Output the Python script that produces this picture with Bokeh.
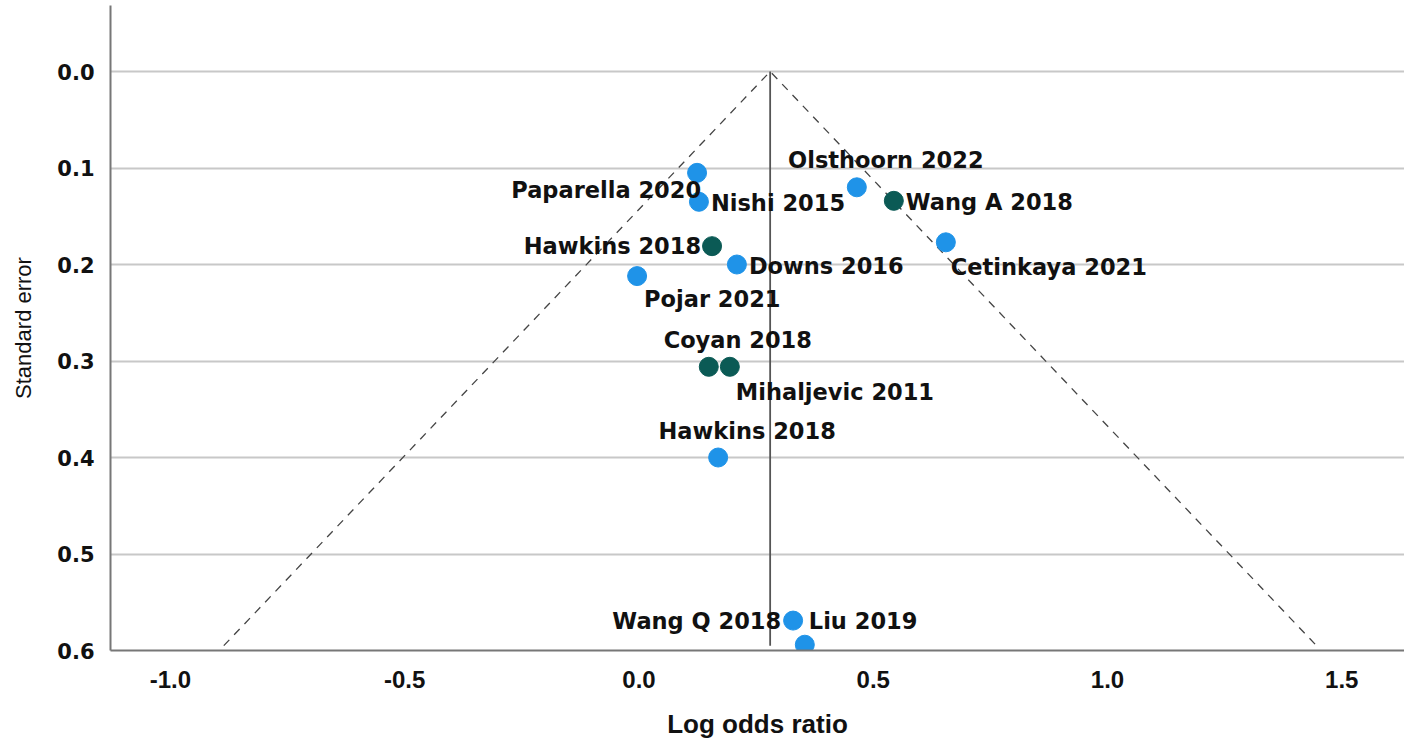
from bokeh.plotting import figure
from bokeh.models import ColumnDataSource, Range1d, FixedTicker, NumeralTickFormatter
from bokeh.core.properties import value
from bokeh.embed import file_html
from bokeh.resources import INLINE

# ---- data ----
studies = ["Paparella 2020", "Nishi 2015", "Olsthoorn 2022", "Wang A 2018", "Cetinkaya 2021",
           "Hawkins 2018", "Downs 2016", "Pojar 2021", "Coyan 2018", "Mihaljevic 2011",
           "Hawkins 2018", "Wang Q 2018", "Liu 2019"]
log_or = [0.124, 0.128, 0.465, 0.544, 0.655, 0.156, 0.209, -0.004, 0.149, 0.194, 0.169, 0.329, 0.354]
std_err = [0.105, 0.135, 0.120, 0.134, 0.177, 0.181, 0.200, 0.212, 0.306, 0.306, 0.400, 0.569, 0.594]
group = ["A", "A", "A", "B", "A", "B", "A", "A", "B", "B", "A", "A", "A"]
pooled = 0.28
se_max = 0.595
x_ticks = [-1.0, -0.5, 0.0, 0.5, 1.0, 1.5]
y_ticks = [0.0, 0.1, 0.2, 0.3, 0.4, 0.5, 0.6]

# ---- styles ----
colors = {"A": "#1f93e8", "B": "#0b5a55"}
lab_align = ["right", "left", "center", "left", "left", "right", "left", "left", "center", "left", "center", "right", "left"]
lab_dx = [4, 12, 29, 12, 5, -11, 12, 7, 29, 6, 29, -12, 4]
lab_dy = [17, 1, -27, 1, 25, 0, 1, 23, -27, 25, -27, 0, -24]

src = ColumnDataSource(dict(x=log_or, y=std_err, color=[colors[g] for g in group]))

p = figure(width=1404, height=744, output_backend="svg", toolbar_location=None,
           x_range=Range1d(-1.128, 1.634), y_range=Range1d(0.6, -0.0684),
           min_border_left=110, min_border_right=0, min_border_top=5, min_border_bottom=94)
p.outline_line_color = None
p.background_fill_color = "white"

# grid
p.xgrid.grid_line_color = None
p.ygrid.grid_line_color = "#c8c8c8"
p.ygrid.grid_line_width = 2
p.yaxis.ticker = FixedTicker(ticks=y_ticks)
p.xaxis.ticker = FixedTicker(ticks=x_ticks)
p.xaxis.formatter = NumeralTickFormatter(format="0.0")
p.yaxis.formatter = NumeralTickFormatter(format="0.0")

for ax in (p.xaxis[0], p.yaxis[0]):
    ax.axis_line_color = "#777777"
    ax.axis_line_width = 2
    ax.major_tick_line_color = None
    ax.minor_tick_line_color = None
    ax.major_label_text_font_style = "bold"
    ax.major_label_text_color = "#111111"
    ax.axis_label_text_color = "#111111"

p.yaxis.major_label_text_font = "DejaVu Sans"
p.yaxis.major_label_text_font_size = "21px"
p.xaxis.major_label_text_font = "Liberation Sans"
p.xaxis.major_label_text_font_size = "24px"

p.yaxis.major_label_standoff = 10
p.xaxis.major_label_standoff = 14
p.yaxis.axis_label = "Standard error"
p.yaxis.axis_label_text_font = "Liberation Sans"
p.yaxis.axis_label_text_font_style = "normal"
p.yaxis.axis_label_text_font_size = "22px"
p.yaxis.axis_label_standoff = 18
p.xaxis.axis_label = "Log odds ratio"
p.xaxis.axis_label_text_font = "Liberation Sans"
p.xaxis.axis_label_text_font_style = "bold"
p.xaxis.axis_label_text_font_size = "26px"
p.xaxis.axis_label_standoff = 18

# funnel lines
p.line([pooled - 1.96 * se_max, pooled, pooled + 1.96 * se_max], [se_max, 0, se_max],
       line_color="#444444", line_width=1.3, line_dash="8 7")
p.segment(x0=[pooled], y0=[0], x1=[pooled], y1=[se_max], line_color="#555555", line_width=1.8)

# points
p.scatter("x", "y", source=src, size=19, fill_color="color", line_color="color")

# labels
for al in ("left", "right", "center"):
    idx = [i for i, a in enumerate(lab_align) if a == al]
    s = ColumnDataSource(dict(x=[log_or[i] for i in idx], y=[std_err[i] for i in idx],
                              name=[studies[i] for i in idx],
                              dx=[lab_dx[i] for i in idx], dy=[lab_dy[i] for i in idx]))
    p.text("x", "y", text="name", source=s, x_offset="dx", y_offset="dy",
           text_align=al, text_baseline="middle", text_font=value("DejaVu Sans"),
           text_font_style="bold", text_font_size="22.5px", text_color="#111111")

open("out.html", "w").write(file_html(p, INLINE))
